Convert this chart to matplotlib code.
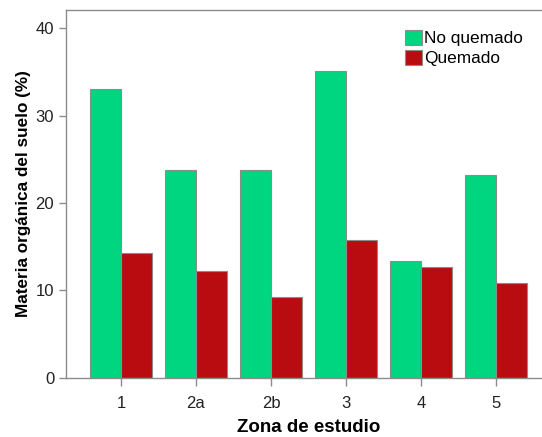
import matplotlib.pyplot as plt
import numpy as np

plt.rcParams['font.family'] = ['Liberation Sans', 'DejaVu Sans']

zonas = ['1', '2a', '2b', '3', '4', '5']
no_quemado = [33.0, 23.8, 23.8, 35.1, 13.4, 23.2]
quemado = [14.3, 12.2, 9.2, 15.7, 12.7, 10.8]

verde = '#00d67f'
rojo = '#b80c10'
gris = '#8c8c8c'

fig = plt.figure(figsize=(5.42, 4.37), dpi=100)
# ejes colocados a mano para seguir la imagen original
ax = fig.add_axes([66 / 542, (437 - 377.5) / 437, (551 - 66) / 542, (377.5 - 10) / 437])

x = np.arange(len(zonas))
w = 0.413
ax.bar(x - w / 2, no_quemado, w, color=verde, edgecolor=gris, linewidth=0.8, label='No quemado')
ax.bar(x + w / 2, quemado, w, color=rojo, edgecolor=gris, linewidth=0.8, label='Quemado')

ax.set_xlim(-0.733, 5.733)
ax.set_ylim(0, 42.1)
ax.set_xticks(x)
ax.set_xticklabels(zonas)
ax.set_yticks([0, 10, 20, 30, 40])

for s in ax.spines.values():
    s.set_color(gris)
    s.set_linewidth(1.0)
ax.spines['right'].set_visible(False)

ax.tick_params(axis='both', colors=gris, labelcolor='#222222', labelsize=12, length=5, width=1)
ax.tick_params(axis='x', length=6, pad=7)

ax.set_xlabel('Zona de estudio', fontsize=13.5, fontweight='bold', labelpad=6)
ax.set_ylabel('Materia orgánica del suelo (%)', fontsize=12.3, fontweight='bold', labelpad=3)

leg = ax.legend(loc='upper left', bbox_to_anchor=(0.685, 0.965), frameon=False, fontsize=12.4,
                handlelength=1.0, handleheight=1.0, handletextpad=0.1, labelspacing=0.2,
                borderaxespad=0)

fig.savefig('out.png', dpi=100)
